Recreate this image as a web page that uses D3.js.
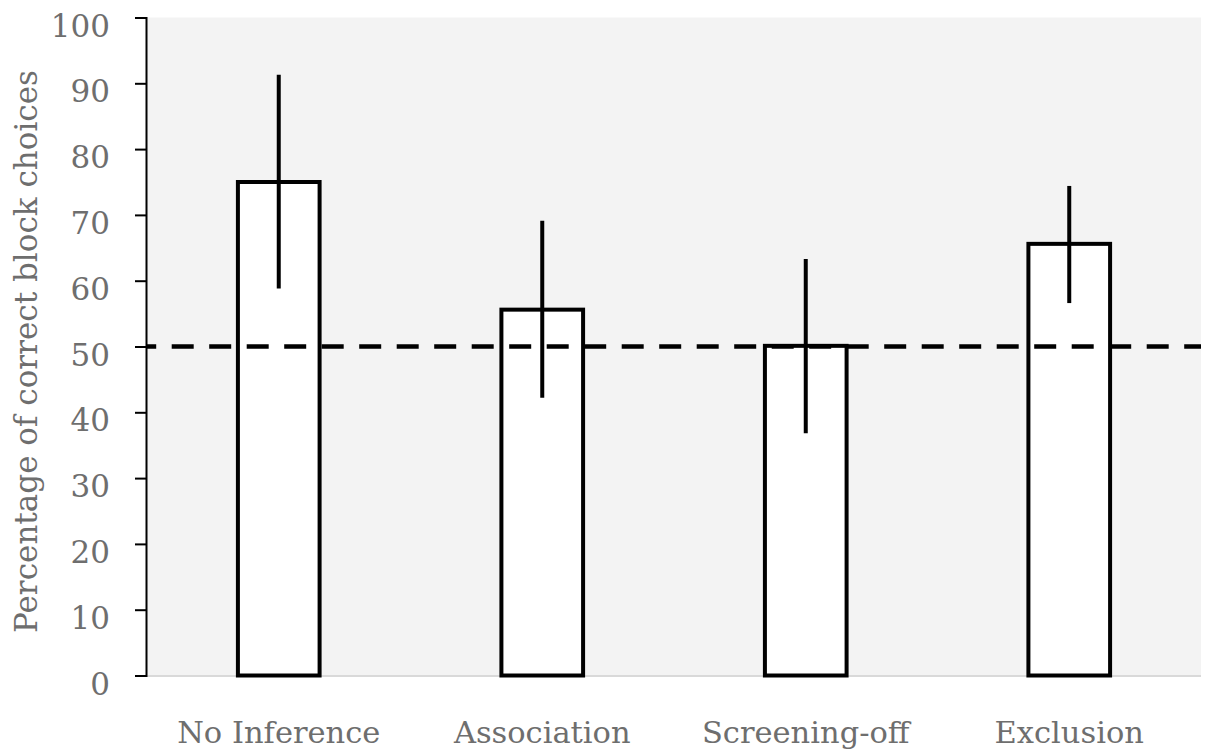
<!DOCTYPE html>
<html>
<head>
<meta charset="utf-8">
<script src="https://cdn.jsdelivr.net/npm/d3@7"></script>
<style>
  html, body { margin: 0; padding: 0; background: #ffffff; }
  svg { display: block; }
  text { font-family: "DejaVu Serif", "Liberation Serif", serif; fill: #6e6e6e; }
</style>
</head>
<body>
<svg id="chart" width="1217" height="754"></svg>
<script>
// Conditions and the mean percentage of correct block choices per condition
const categories = ["No Inference", "Association", "Screening-off", "Exclusion"];
const means = [75.0, 55.6, 50.1, 65.6];
const upper = [91.3, 69.1, 63.3, 74.4];
const lower = [58.8, 42.2, 36.8, 56.6];
const chanceLevel = 50;
const yTicks = [0, 10, 20, 30, 40, 50, 60, 70, 80, 90, 100];
const yTitle = "Percentage of correct block choices";

const svg = d3.select("#chart");
const margin = { left: 147, right: 16, top: 17.5, bottom: 78.5 };
const W = 1217, H = 754;
const plotW = W - margin.left - margin.right;
const plotH = H - margin.top - margin.bottom;

const x = d3.scaleBand().domain(categories).range([0, plotW]).paddingInner(0.69).paddingOuter(0.345);
const y = d3.scaleLinear().domain([0, 100]).range([plotH, 0]);

const g = svg.append("g").attr("transform", `translate(${margin.left},${margin.top})`);

// plot background
g.append("rect").attr("x", 0).attr("y", 0).attr("width", plotW).attr("height", plotH)
  .attr("fill", "#f3f3f3");

// category axis baseline
g.append("line").attr("x1", 0).attr("x2", plotW).attr("y1", plotH + 0.5).attr("y2", plotH + 0.5)
  .attr("stroke", "#d9d9d9").attr("stroke-width", 2);

// bars
const rows = categories.map((c, i) => ({ c, m: means[i], hi: upper[i], lo: lower[i] }));
g.selectAll("rect.bar").data(rows).join("rect").attr("class", "bar")
  .attr("x", d => x(d.c))
  .attr("y", d => y(d.m))
  .attr("width", x.bandwidth())
  .attr("height", d => y(0) - y(d.m))
  .attr("fill", "#ffffff").attr("stroke", "#000").attr("stroke-width", 4);

// chance level
g.append("line").attr("x1", 0).attr("x2", plotW).attr("y1", y(chanceLevel)).attr("y2", y(chanceLevel))
  .attr("stroke", "#000").attr("stroke-width", 4.5)
  .attr("stroke-dasharray", "22,15.5").attr("stroke-dashoffset", 12.8);

// error bars
g.selectAll("line.err").data(rows).join("line").attr("class", "err")
  .attr("x1", d => x(d.c) + x.bandwidth() / 2)
  .attr("x2", d => x(d.c) + x.bandwidth() / 2)
  .attr("y1", d => y(d.hi)).attr("y2", d => y(d.lo))
  .attr("stroke", "#000").attr("stroke-width", 4);

// y axis
const yAxis = g.append("g").attr("transform", "translate(-1,0)")
  .call(d3.axisLeft(y).tickValues(yTicks).tickSize(11).tickPadding(25).tickFormat(d3.format("d")));
yAxis.select(".domain").attr("stroke", "#000").attr("stroke-width", 2);
yAxis.selectAll(".tick line").attr("stroke", "#000").attr("stroke-width", 2);
yAxis.selectAll(".tick text").attr("font-size", 31).attr("dy", "0.6em")
  .style("font-family", "'DejaVu Serif', serif").attr("fill", "#6e6e6e");

// x axis labels
g.selectAll("text.cat").data(categories).join("text").attr("class", "cat")
  .attr("x", d => x(d) + x.bandwidth() / 2)
  .attr("y", plotH + 67)
  .attr("text-anchor", "middle").attr("font-size", 30.5)
  .text(d => d);

// y axis title
svg.append("text")
  .attr("transform", `translate(37,${margin.top + y(50) + 5}) rotate(-90)`)
  .attr("text-anchor", "middle").attr("font-size", 31)
  .text(yTitle);
</script>
</body>
</html>
